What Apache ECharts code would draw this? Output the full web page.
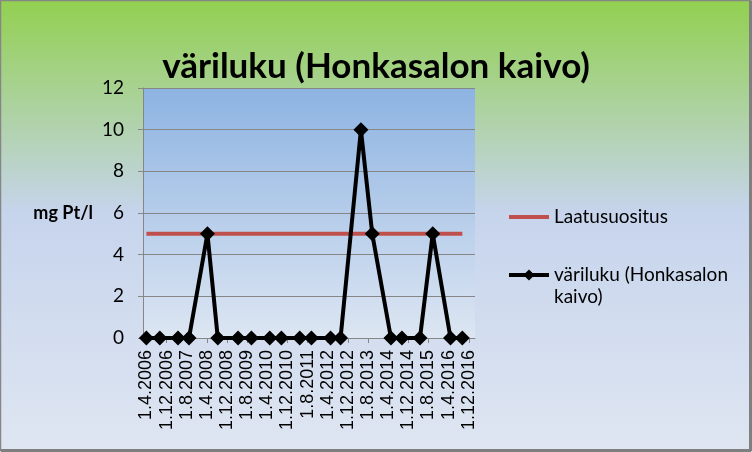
<!DOCTYPE html>
<html>
<head>
<meta charset="utf-8">
<script src="https://cdn.jsdelivr.net/npm/echarts@6/dist/echarts.min.js"></script>
<style>
html,body{margin:0;padding:0;background:#fff;}
#chart{width:752px;height:452px;}
</style>
</head>
<body>
<div id="chart"></div>
<script>
// ---- data ----
var titleText = 'väriluku (Honkasalon kaivo)';
var yAxisTitle = 'mg Pt/l';
var seriesLimitName = 'Laatusuositus';
var seriesColourName = 'väriluku (Honkasalon kaivo)';
var tickLabels = ['1.4.2006','1.12.2006','1.8.2007','1.4.2008','1.12.2008','1.8.2009','1.4.2010','1.12.2010','1.8.2011','1.4.2012','1.12.2012','1.8.2013','1.4.2014','1.12.2014','1.8.2015','1.4.2016','1.12.2016'];
var sampleDates = ['2006-04-01','2006-09-10','2007-04-18','2007-08-29','2008-04-08','2008-08-11','2009-04-13','2009-09-22','2010-05-01','2010-09-19','2011-04-29','2011-09-17','2012-05-05','2012-09-03','2013-05-07','2013-09-21','2014-05-05','2014-09-15','2015-04-21','2015-09-22','2016-04-24','2016-09-14'];
var colourValues = [0,0,0,0,5,0,0,0,0,0,0,0,0,0,10,5,0,0,0,5,0,0];
var qualityLimit = 5;
var axisStart = '2006-02-19';
var axisEnd = '2017-02-14';

function isoToTs(s){var p=s.split('-');return Date.UTC(+p[0],+p[1]-1,+p[2]);}
function fiToTs(s){var p=s.split('.');return Date.UTC(+p[2],+p[1]-1,+p[0]);}

var tickTs = tickLabels.map(fiToTs);
var labelByTs = {};
tickTs.forEach(function(t,i){labelByTs[t]=tickLabels[i];});
var colourData = sampleDates.map(function(d,i){return [isoToTs(d), colourValues[i]];});
var limitData = [[isoToTs(sampleDates[0]), qualityLimit],[isoToTs(sampleDates[sampleDates.length-1]), qualityLimit]];

var chart = echarts.init(document.getElementById('chart'), null, {renderer:'canvas'});
var font = 'Lato, "Open Sans", sans-serif';
chart.setOption({
  animation:false,
  backgroundColor:{type:'linear',x:0,y:0,x2:0,y2:1,colorStops:[
    {offset:0,color:'#92D050'},{offset:0.47,color:'#C6D4EC'},{offset:1,color:'#DFE6F2'}]},
  graphic:[
    {type:'rect',shape:{x:0.5,y:0.5,width:750,height:450},style:{fill:'none',stroke:'#868686',lineWidth:1.5},z:100},
    {type:'line',shape:{x1:750.5,y1:1,x2:750.5,y2:451},style:{stroke:'#7F7F7F',lineWidth:3},z:100},
    {type:'line',shape:{x1:1,y1:450.5,x2:751,y2:450.5},style:{stroke:'#7F7F7F',lineWidth:3},z:100}
  ],
  title:{text:titleText,left:'center',top:44,textStyle:{fontFamily:font,fontWeight:'bold',fontSize:35,color:'#000'}},
  grid:{left:143,right:277,top:88,bottom:114,show:true,borderWidth:0,
    backgroundColor:{type:'linear',x:0,y:0,x2:0,y2:1,colorStops:[{offset:0,color:'#8DB3E2'},{offset:1,color:'#DDE6F2'}]}},
  legend:{orient:'vertical',left:502,top:201,itemWidth:40,itemHeight:14,itemGap:14,
    textStyle:{fontFamily:font,fontSize:19,color:'#000',lineHeight:22},
    formatter:function(n){return n===seriesColourName?' \nväriluku (Honkasalon\nkaivo)':n;},
    data:[{name:seriesLimitName,itemStyle:{opacity:0},lineStyle:{width:4,color:'#C0504D'}},
          {name:seriesColourName,lineStyle:{width:4,color:'#000'}}]},
  xAxis:{type:'value',min:isoToTs(axisStart),max:isoToTs(axisEnd),
    axisLine:{show:true,lineStyle:{color:'#868686',width:1}},
    axisTick:{show:true,customValues:tickTs,length:5,lineStyle:{color:'#868686'}},
    axisLabel:{customValues:tickTs,rotate:90,margin:12,fontFamily:'"Liberation Sans", Arial, sans-serif',fontSize:18,color:'#000',
      formatter:function(v){return labelByTs[v]||'';}},
    splitLine:{show:false}},
  yAxis:{type:'value',min:0,max:12,interval:2,
    name:yAxisTitle,nameLocation:'middle',nameRotate:0,nameGap:50,
    nameTextStyle:{fontFamily:font,fontWeight:'bold',fontSize:18,color:'#000',align:'right',padding:[14,0,0,0]},
    axisLine:{show:true,lineStyle:{color:'#868686'}},
    axisTick:{show:true,length:5,lineStyle:{color:'#868686'}},
    axisLabel:{fontFamily:font,fontSize:19,color:'#000',margin:19},
    splitLine:{show:true,lineStyle:{color:'#868686',width:1}}},
  series:[
    {name:seriesLimitName,type:'line',data:limitData,symbol:'none',lineStyle:{color:'#C0504D',width:4},itemStyle:{color:'#C0504D'},z:2},
    {name:seriesColourName,type:'line',data:colourData,symbol:'diamond',symbolSize:15,
      lineStyle:{color:'#000',width:4},itemStyle:{color:'#000'},z:3}
  ]
});
</script>
</body>
</html>
